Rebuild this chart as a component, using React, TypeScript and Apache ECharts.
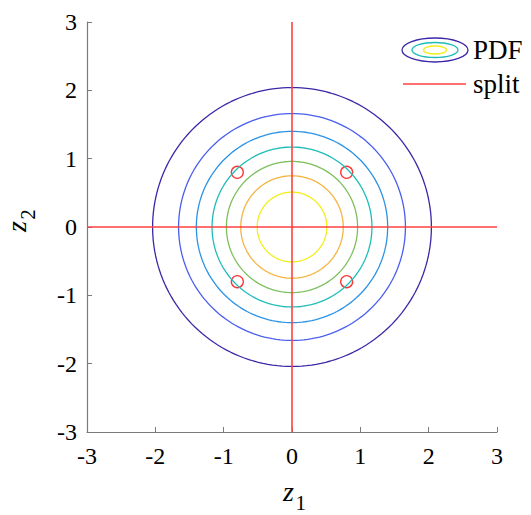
import React, { useEffect, useRef } from "react";
import * as echarts from "echarts";

// Contour levels of the standard bivariate normal density and the radius of each iso-line
const pdfLevels = [0.02, 0.04, 0.06, 0.08, 0.1, 0.12, 0.14];
const contourRadii = [2.04, 1.66, 1.4, 1.17, 0.96, 0.75, 0.51];
const contourColors = ["#3e26a8", "#4a5ef0", "#2a93e6", "#1fbcb8", "#7cbf5c", "#f5b340", "#f2ee1a"];

// Split lines through the origin
const splitH = [[-3, 0], [3, 0]];
const splitV = [[0, -3], [0, 3]];

// Split points
const splitPoints = [[-0.8, 0.8], [0.8, 0.8], [-0.8, -0.8], [0.8, -0.8]];

const axisMin = -3;
const axisMax = 3;

const FONT = "Liberation Serif";

function circlePoints(r: number): number[][] {
  const pts: number[][] = [];
  const n = 180;
  for (let i = 0; i <= n; i++) {
    const t = (i / n) * Math.PI * 2;
    pts.push([r * Math.cos(t), r * Math.sin(t)]);
  }
  return pts;
}

export default function App() {
  const ref = useRef<HTMLDivElement>(null);

  useEffect(() => {
    document.body.style.margin = "0";
    const chart = echarts.init(ref.current!, null, { renderer: "svg" });

    const axisCommon = {
      type: "value" as const,
      min: axisMin,
      max: axisMax,
      interval: 1,
      axisLine: { show: true, onZero: false, lineStyle: { color: "#7a7a7a", width: 1.2 } },
      axisTick: { show: true, inside: true, length: 5, lineStyle: { color: "#7a7a7a" } },
      splitLine: { show: false },
      axisLabel: { color: "#000", fontFamily: FONT, fontSize: 24 },
    };

    const contourSeries = contourRadii.map((r, i) => ({
      name: "PDF " + pdfLevels[i],
      type: "line" as const,
      data: circlePoints(r),
      showSymbol: false,
      symbol: "none",
      lineStyle: { color: contourColors[i], width: 1.3 },
      silent: true,
    }));

    chart.setOption({
      animation: false,
      backgroundColor: "#fff",
      grid: { left: 87, right: 34, top: 22, bottom: 83 },
      xAxis: { ...axisCommon, axisLabel: { ...axisCommon.axisLabel, margin: 12 } },
      yAxis: { ...axisCommon, axisLabel: { ...axisCommon.axisLabel, margin: 10 } },
      series: [
        ...contourSeries,
        {
          name: "split",
          type: "line",
          data: splitH,
          symbol: "none",
          lineStyle: { color: "#ff4040", width: 1.6 },
        },
        {
          name: "split-v",
          type: "line",
          data: splitV,
          symbol: "none",
          lineStyle: { color: "#ff4040", width: 1.6 },
        },
        {
          name: "points",
          type: "scatter",
          data: splitPoints,
          symbol: "circle",
          symbolSize: 12,
          itemStyle: { color: "rgba(0,0,0,0)", borderColor: "#ff0000", borderWidth: 1.3 },
        },
      ],
      graphic: [
        // legend: PDF
        { type: "ellipse", shape: { cx: 435, cy: 50, rx: 33, ry: 12 }, style: { fill: "none", stroke: contourColors[0], lineWidth: 1.3 } },
        { type: "ellipse", shape: { cx: 435, cy: 50, rx: 23, ry: 7.5 }, style: { fill: "none", stroke: contourColors[3], lineWidth: 1.3 } },
        { type: "ellipse", shape: { cx: 435, cy: 50, rx: 11.5, ry: 4 }, style: { fill: "none", stroke: contourColors[6], lineWidth: 1.3 } },
        { type: "text", x: 473, y: 50, style: { text: "PDF", fill: "#000", font: `27px ${FONT}`, verticalAlign: "middle" } },
        // legend: split
        { type: "line", shape: { x1: 403, y1: 84, x2: 466, y2: 84 }, style: { stroke: "#ff4040", lineWidth: 1.6 } },
        { type: "text", x: 473, y: 84, style: { text: "split", fill: "#000", font: `27px ${FONT}`, verticalAlign: "middle" } },
        // x axis title z1
        { type: "text", x: 283, y: 491.5, style: { text: "z", fill: "#000", font: `italic 28px ${FONT}`, verticalAlign: "middle", lineHeight: 20 } },
        { type: "text", x: 295.5, y: 503.2, style: { text: "1", fill: "#000", font: `21px ${FONT}`, verticalAlign: "middle", lineHeight: 15 } },
        // y axis title z2, written bottom-to-top
        {
          type: "group",
          x: 25.5,
          y: 232,
          rotation: Math.PI / 2,
          children: [
            { type: "text", x: 0, y: -9.5, style: { text: "z", fill: "#000", font: `italic 28px ${FONT}`, verticalAlign: "middle", lineHeight: 20 } },
            { type: "text", x: 12.3, y: 2.6, style: { text: "2", fill: "#000", font: `21px ${FONT}`, verticalAlign: "middle", lineHeight: 15 } },
          ],
        },
      ],
    });

    return () => chart.dispose();
  }, []);

  return <div ref={ref} style={{ width: 531, height: 515 }} />;
}
